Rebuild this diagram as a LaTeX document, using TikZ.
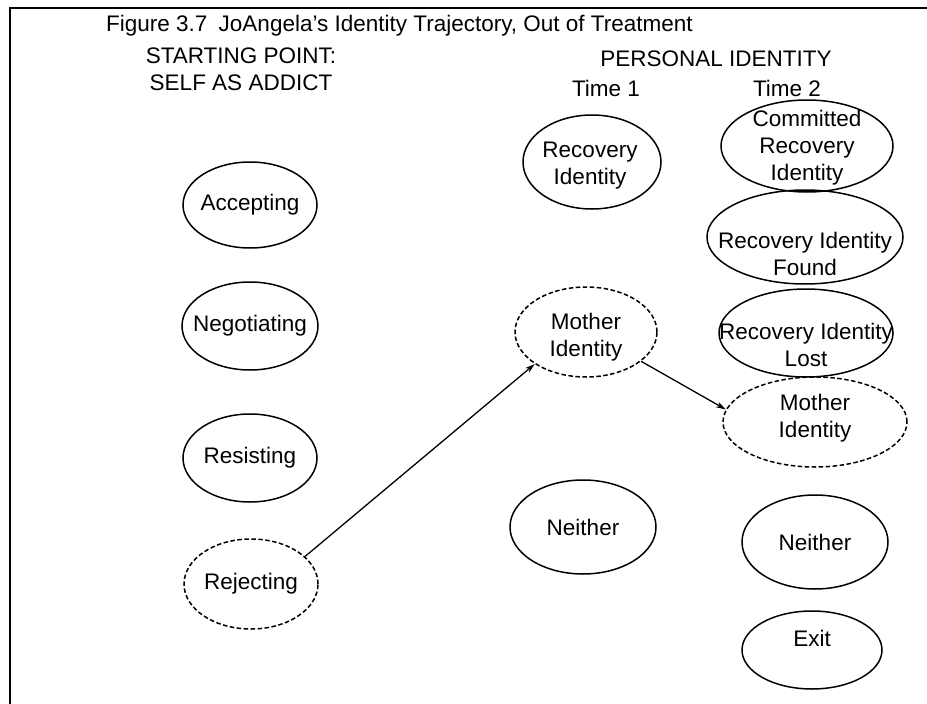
\documentclass[tikz,border=0pt]{standalone}
\usepackage{fontspec}
\setmainfont{Liberation Sans}
\usetikzlibrary{shapes.geometric,arrows.meta}
\begin{document}
\begin{tikzpicture}[x=1pt,y=-1pt,
  oval/.style={draw, ellipse, line width=1.5pt, inner sep=0pt},
  dashoval/.style={oval, dash pattern=on 4.5pt off 2.5pt},
  txt/.style={align=center, font=\fontsize{22.5}{27}\selectfont, inner sep=0pt},
  arr/.style={line width=1.3pt, -{Stealth[length=10pt,width=6pt]}}]
\useasboundingbox (0,0) rectangle (927,704);
\fill[white] (0,0) rectangle (927,704);
\draw[line width=2pt] (927,8) -- (10,8) -- (10,704);

% headings
\node[txt, anchor=west] (title) at (106,26) {Figure 3.7\enspace JoAngela’s Identity Trajectory, Out of Treatment};
\node[txt] (start) at (241,69) {STARTING POINT:\\SELF AS ADDICT};
\node[txt] (pid) at (716,59) {PERSONAL IDENTITY};
\node[txt] (t1) at (606,88) {Time 1};
\node[txt] (t2) at (787,88) {Time 2};

% starting point column
\node[oval, minimum width=134pt, minimum height=86pt] (acc) at (250,205) {};
\node[txt] (acc-t) at (250,205) {Accepting};
\node[oval, minimum width=136pt, minimum height=88pt] (neg) at (250,326) {};
\node[txt] (neg-t) at (250,326) {Negotiating};
\node[oval, minimum width=134pt, minimum height=88pt] (res) at (250,458) {};
\node[txt] (res-t) at (250,458) {Resisting};
\node[dashoval, minimum width=134pt, minimum height=90pt] (rej) at (251,584) {};
\node[txt] (rej-t) at (251,584) {Rejecting};

% time 1 column
\node[oval, minimum width=138pt, minimum height=94pt] (rec1) at (592,162) {};
\node[txt] (rec1-t) at (590,166) {Recovery\\Identity};
\node[dashoval, minimum width=142pt, minimum height=90pt] (mot1) at (586,332) {};
\node[txt] (mot1-t) at (586,337) {Mother\\Identity};
\node[oval, minimum width=146pt, minimum height=94pt] (nei1) at (583,527) {};
\node[txt] (nei1-t) at (583,527) {Neither};

% time 2 column
\node[oval, minimum width=172pt, minimum height=92pt] (com) at (807,146) {};
\node[txt] (com-t) at (807,148) {Committed\\Recovery\\Identity};
\node[oval, minimum width=196pt, minimum height=94pt] (fnd) at (805,237) {};
\node[txt] (fnd-t) at (805,254) {Recovery Identity\\Found};
\node[oval, minimum width=174pt, minimum height=88pt] (lst) at (806,333) {};
\node[txt] (lst-t) at (806,345) {Recovery Identity\\Lost};
\node[dashoval, minimum width=184pt, minimum height=90pt] (mot2) at (815,422) {};
\node[txt] (mot2-t) at (815,418) {Mother\\Identity};
\node[oval, minimum width=146pt, minimum height=94pt] (nei2) at (815,542) {};
\node[txt] (nei2-t) at (815,542) {Neither};
\node[oval, minimum width=140pt, minimum height=78pt] (ext) at (812,650) {};
\node[txt] (ext-t) at (812,638) {Exit};

% connectors
\draw[arr] (rej.27) -- (mot1.212);
\draw[arr] (mot1.332) -- (mot2.172);
\end{tikzpicture}
\end{document}
